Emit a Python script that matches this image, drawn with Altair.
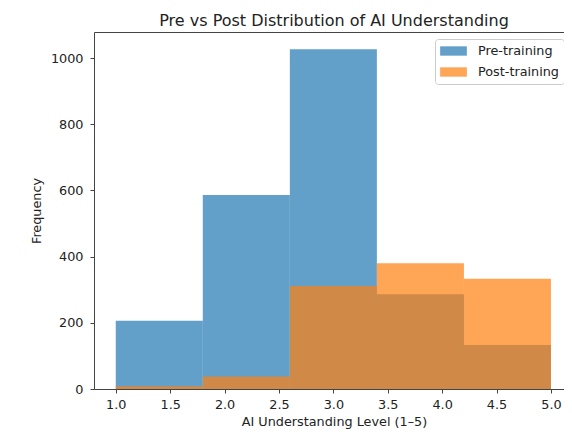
import altair as alt
import pandas as pd

# ---- data ----
bin_edges = [1.0, 1.8, 2.6, 3.4, 4.2, 5.0]
pre_counts = [206, 586, 1027, 286, 133]
post_counts = [8, 38, 311, 380, 333]
series_names = ["Pre-training", "Post-training"]
series_colors = ["#1f77b4", "#ff7f0e"]
x_ticks = [1.0, 1.5, 2.0, 2.5, 3.0, 3.5, 4.0, 4.5, 5.0]
y_ticks = [0, 200, 400, 600, 800, 1000]

rows = []
for k, (name, counts) in enumerate(zip(series_names, [pre_counts, post_counts])):
    for i, c in enumerate(counts):
        rows.append({"series": name, "k": k, "start": bin_edges[i],
                     "end": bin_edges[i + 1], "count": c, "base": 0})
df = pd.DataFrame(rows)

FONT = "DejaVu Sans"
TXT = "#222222"
SPINE = "#444444"

x_scale = alt.Scale(domain=[0.8, 5.12], nice=False, zero=False)
y_scale = alt.Scale(domain=[0, 1079], nice=False, zero=True)

bars = alt.Chart(df).mark_rect(opacity=0.7, strokeWidth=0).encode(
    x=alt.X("start:Q", scale=x_scale,
            axis=alt.Axis(values=x_ticks, format=".1f", orient="bottom",
                          title="AI Understanding Level (1–5)", grid=False,
                          labelPadding=5, titlePadding=5, titleX=240)),
    x2="end:Q",
    y=alt.Y("count:Q", scale=y_scale,
            axis=alt.Axis(values=y_ticks, format="d", title="Frequency",
                          grid=False, labelPadding=7, titlePadding=7)),
    y2="base:Q",
    color=alt.Color("series:N",
                    scale=alt.Scale(domain=series_names, range=series_colors),
                    legend=alt.Legend(title=None, orient="none",
                                      legendX=341, legendY=7,
                                      symbolType="M-1,-0.35L1,-0.35L1,0.35L-1,0.35Z",
                                      symbolSize=713, symbolOpacity=0.7,
                                      symbolStrokeWidth=0,
                                      labelFont=FONT, labelFontSize=12.8,
                                      labelColor=TXT, labelOffset=11,
                                      padding=5, rowPadding=7, clipHeight=14,
                                      strokeColor="#cccccc", fillColor="white",
                                      cornerRadius=3)),
    order=alt.Order("k:Q"),
)

top_spine = alt.Chart(df).mark_point(opacity=0).encode(
    x=alt.X("start:Q", scale=x_scale,
            axis=alt.Axis(orient="top", labels=False, ticks=False,
                          domain=True, title=None, grid=False,
                          minExtent=0, maxExtent=0)),
)

chart = alt.layer(bars, top_spine).resolve_axis(x="independent").properties(
    width=470,
    height=357,
    autosize=alt.AutoSizeParams(type="none"),
    padding={"left": 86, "top": 24, "right": 0, "bottom": 43},
    title=alt.TitleParams("Pre vs Post Distribution of AI Understanding",
                          font=FONT, fontSize=16, fontWeight="normal",
                          color=TXT, anchor="middle", offset=-10, dx=5,
                          baseline="alphabetic"),
).configure_view(stroke=None).configure_axis(
    labelFont=FONT, labelFontSize=12.8, labelColor=TXT,
    titleFont=FONT, titleFontSize=12.8, titleFontWeight="normal",
    titleColor=TXT, domainColor=SPINE, domainWidth=1,
    tickColor=SPINE, tickSize=4, tickWidth=1,
)

chart.save("out.html", embed_options={"renderer": "svg", "actions": False})
